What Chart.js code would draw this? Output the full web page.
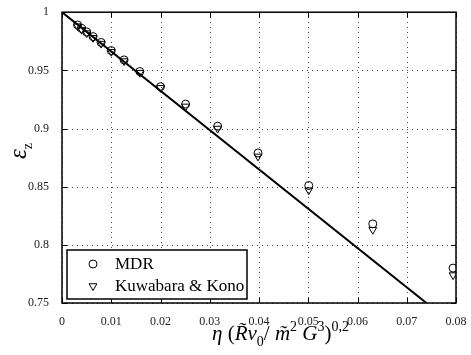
<!DOCTYPE html>
<html>
<head>
<meta charset="utf-8">
<script src="https://cdn.jsdelivr.net/npm/chart.js@4.4.1/dist/chart.umd.min.js"></script>
<style>
html, body { margin: 0; padding: 0; background: #fff; }
#wrap { position: relative; width: 471px; height: 355px; }
#chart { position: absolute; left: 0; top: 0; }
.xlab { position: absolute; left: 212px; top: 323px; font-family: "Liberation Serif", serif; font-size: 21px; color: #000; white-space: nowrap; line-height: 21px; }
.ylab { position: absolute; left: 1px; top: 138px; width: 34px; height: 26px; font-family: "Liberation Serif", serif; font-size: 25px; color: #000; white-space: nowrap; line-height: 26px; transform: rotate(-90deg); text-align: center; }
.sub { position: relative; top: 6px; font-size: 14px; }
.sup { position: relative; top: -9px; font-size: 14px; }
</style>
</head>
<body>
<div id="wrap">
  <canvas id="chart" width="471" height="355"></canvas>
  <div class="xlab"><i>η</i> (<i>R̃v</i><span class="sub">0</span>/ <i>m̃</i><span class="sup">2</span> <i>G</i><span class="sup">3</span>)<span class="sup">0,2</span></div>
  <div class="ylab"><i>ε</i><span class="sub">z</span></div>
</div>
<script>
// eta values (log spaced)
const eta = [0.00316, 0.00398, 0.00501, 0.00631, 0.00794, 0.01, 0.0126, 0.0158, 0.0200, 0.0251, 0.0316, 0.0398, 0.0501, 0.0631, 0.0794];
const mdr = [0.989, 0.986, 0.983, 0.979, 0.974, 0.967, 0.959, 0.949, 0.936, 0.921, 0.902, 0.879, 0.851, 0.818, 0.780];
const kuwabara = [0.988, 0.985, 0.982, 0.978, 0.973, 0.966, 0.958, 0.948, 0.935, 0.919, 0.900, 0.876, 0.847, 0.813, 0.774];
// straight line
const lineX = [0, 0.074];
const lineY = [1, 0.75];

const xTicks = [0, 0.01, 0.02, 0.03, 0.04, 0.05, 0.06, 0.07, 0.08];
const yTicks = [0.75, 0.8, 0.85, 0.9, 0.95, 1];

const tickFont = { family: "Liberation Serif", size: 12 };

// dotted grid under the data
const gridPlugin = {
    id: "dotgrid",
    beforeDatasetsDraw(chart) {
        const ctx = chart.ctx;
        const a = chart.chartArea;
        const xs = chart.scales.x, ys = chart.scales.y;
        ctx.save();
        ctx.strokeStyle = "#444";
        ctx.lineWidth = 1;
        ctx.setLineDash([1, 4]);
        ctx.beginPath();
        xTicks.forEach(v => {
            const px = Math.round(xs.getPixelForValue(v)) + 0.5;
            ctx.moveTo(px, a.bottom); ctx.lineTo(px, a.top);
        });
        yTicks.forEach(v => {
            const py = Math.round(ys.getPixelForValue(v)) + 0.5;
            ctx.moveTo(a.left, py); ctx.lineTo(a.right, py);
        });
        ctx.stroke();
        ctx.restore();
    }
};

const boxPlugin = {
    id: "box",
    afterDraw(chart) {
        const ctx = chart.ctx;
        const a = chart.chartArea;
        const xs = chart.scales.x, ys = chart.scales.y;
        ctx.save();
        ctx.strokeStyle = "#000";
        ctx.lineWidth = 1.5;
        ctx.strokeRect(a.left, a.top, a.right - a.left, a.bottom - a.top);
        // inward ticks
        ctx.lineWidth = 1;
        ctx.beginPath();
        xTicks.forEach(v => {
            const px = Math.round(xs.getPixelForValue(v)) + 0.5;
            ctx.moveTo(px, a.bottom); ctx.lineTo(px, a.bottom - 5);
            ctx.moveTo(px, a.top); ctx.lineTo(px, a.top + 5);
        });
        yTicks.forEach(v => {
            const py = Math.round(ys.getPixelForValue(v)) + 0.5;
            ctx.moveTo(a.left, py); ctx.lineTo(a.left + 5, py);
            ctx.moveTo(a.right, py); ctx.lineTo(a.right - 5, py);
        });
        ctx.stroke();

        // legend
        const lx = 67, ly = 250, lw = 180, lh = 49;
        ctx.fillStyle = "#fff";
        ctx.fillRect(lx, ly, lw, lh);
        ctx.lineWidth = 1.5;
        ctx.strokeRect(lx, ly, lw, lh);
        ctx.font = "17px 'Liberation Serif'";
        ctx.textBaseline = "middle";
        [0, 1].forEach(i => {
            const ds = chart.data.datasets[i];
            const cy = ly + 14 + i * 22;
            ctx.lineWidth = 1;
            ctx.strokeStyle = "#000";
            ctx.fillStyle = "#fff";
            Chart.helpers.drawPoint(ctx, {
                pointStyle: ds.pointStyle,
                rotation: ds.pointRotation || 0,
                radius: ds.pointRadius,
                borderWidth: 1
            }, 93, cy);
            ctx.fillStyle = "#000";
            ctx.fillText(ds.label, 115, cy + 1);
        });
        ctx.restore();
    }
};

new Chart(document.getElementById("chart"), {
    type: "scatter",
    data: {
        datasets: [
            {
                label: "MDR",
                data: eta.map((x, i) => ({ x: x, y: mdr[i] })),
                pointStyle: "circle",
                pointRadius: 4,
                borderColor: "#000",
                backgroundColor: "rgba(0,0,0,0)",
                borderWidth: 1
            },
            {
                label: "Kuwabara & Kono",
                data: eta.map((x, i) => ({ x: x, y: kuwabara[i] })),
                pointStyle: "triangle",
                pointRotation: 180,
                pointRadius: 4.5,
                borderColor: "#000",
                backgroundColor: "rgba(0,0,0,0)",
                borderWidth: 1
            },
            {
                label: "line",
                type: "line",
                data: lineX.map((x, i) => ({ x: x, y: lineY[i] })),
                borderColor: "#000",
                borderWidth: 2,
                pointRadius: 0,
                fill: false
            }
        ]
    },
    options: {
        responsive: false,
        animation: false,
        layout: { padding: { top: 7, right: 15, left: 0, bottom: 0 } },
        plugins: { legend: { display: false }, tooltip: { enabled: false } },
        scales: {
            x: {
                type: "linear",
                min: 0, max: 0.08,
                afterBuildTicks: s => { s.ticks = xTicks.map(v => ({ value: v })); },
                afterFit: s => { s.height = 52; },
                ticks: {
                    font: tickFont, color: "#222", padding: 4, maxRotation: 0,
                    callback: v => String(+v.toFixed(2))
                },
                grid: { display: false },
                border: { display: false }
            },
            y: {
                min: 0.75, max: 1,
                afterBuildTicks: s => { s.ticks = yTicks.map(v => ({ value: v })); },
                afterFit: s => { s.width = 62; },
                ticks: {
                    font: tickFont, color: "#222", padding: 5,
                    callback: v => String(+v.toFixed(2))
                },
                grid: { display: false },
                border: { display: false }
            }
        }
    },
    plugins: [gridPlugin, boxPlugin]
});
</script>
</body>
</html>
